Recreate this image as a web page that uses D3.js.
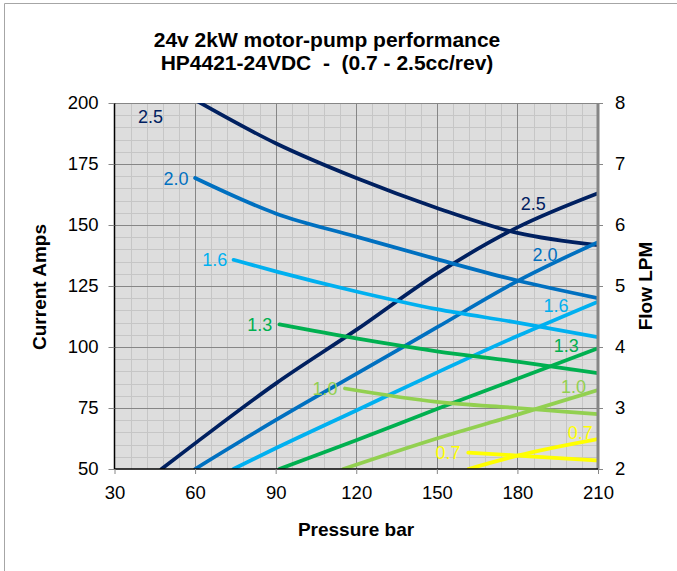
<!DOCTYPE html>
<html><head><meta charset="utf-8">
<script src="https://cdn.jsdelivr.net/npm/d3@7"></script>
<style>body{margin:0;background:#fff} text{font-family:"Liberation Sans",Arial,sans-serif}</style>
</head><body><svg id="c" width="677" height="571"></svg>
<script>
const displacements = ["2.5","2.0","1.6","1.3","1.0","0.7"];
const currentPressure = [[47.5,60,90,120,150,180,210],[60,90,120,150,180,210],[74.3,90,120,150,180,210],[91.4,120,150,180,210],[115.2,150,180,210],[161.8,180,210]];
const currentAmps = [[50,60.5,85,107,130,149,163],[50,70,89,108,127,143],[50,58.5,74,89.5,104.5,118.6],[50,61.8,74.6,87,99.5],[50,62.5,72.3,82.4],[50,55.5,62.3]];
const flowPressure = [[60,90,120,150,180,210],[60,90,120,150,180,210],[74.3,90,120,150,180,210],[91.4,120,150,180,210],[115.8,150,180,210],[161.7,180,210]];
const flowLpm = [[8.05,7.34,6.77,6.28,5.87,5.67],[6.77,6.19,5.81,5.44,5.09,4.80],[5.43,5.24,4.91,4.62,4.40,4.16],[4.37,4.14,3.93,3.76,3.57],[3.32,3.10,3.00,2.90],[2.27,2.22,2.14]];
const flowLabelPressure = [43.4,52.9,67.3,84.1,108.4,154.2];
const flowLabelLpm = [7.775,6.766,5.426,4.369,3.323,2.267];
const currentLabelPressure = [185.9,190.3,194.4,198.2,200.9,203.4];
const currentLabelAmps = [159.0,137.7,117.2,100.5,84.0,65.0];
const pressureTicks = [30,60,90,120,150,180,210];
const ampTicks = [50,75,100,125,150,175,200];
const lpmTicks = [2,3,4,5,6,7,8];
const seriesColors = ["#002060","#0070C0","#00B0F0","#00B050","#92D050","#FFFF00"];
const titleLines = ["24v 2kW motor-pump performance","HP4421-24VDC  -  (0.7 - 2.5cc/rev)"];

const svg = d3.select("#c");
const L = 114.5, R = 598, T = 103, B = 469;
const x = d3.scaleLinear().domain([30,210]).range([L,R]);
const yA = d3.scaleLinear().domain([50,200]).range([B,T]);
const yF = d3.scaleLinear().domain([2,8]).range([B,T]);

svg.append("path").attr("d",`M4.5,571 V3.5 H677`).attr("fill","none").attr("stroke","#a6a6a6").attr("stroke-width",1);
svg.append("rect").attr("x",L).attr("y",T).attr("width",R-L).attr("height",B-T).attr("fill","#dddddd");

const minorX = d3.range(30,210.01,6).filter(v=>v%30!==0);
const minorY = d3.range(50,200.01,5).filter(v=>v%25!==0);
const g = svg.append("g");
g.selectAll(".mx").data(minorX).join("line").attr("x1",d=>Math.round(x(d))+0.5).attr("x2",d=>Math.round(x(d))+0.5).attr("y1",T).attr("y2",B).attr("stroke","#c6c6c6");
g.selectAll(".my").data(minorY).join("line").attr("y1",d=>Math.round(yA(d))+0.5).attr("y2",d=>Math.round(yA(d))+0.5).attr("x1",L).attr("x2",R).attr("stroke","#c6c6c6");
g.selectAll(".Mx").data(pressureTicks.slice(1,-1)).join("line").attr("x1",d=>Math.round(x(d))+0.5).attr("x2",d=>Math.round(x(d))+0.5).attr("y1",T).attr("y2",B).attr("stroke","#868686");
g.selectAll(".My").data(ampTicks.slice(1,-1)).join("line").attr("y1",d=>Math.round(yA(d))+0.5).attr("y2",d=>Math.round(yA(d))+0.5).attr("x1",L).attr("x2",R).attr("stroke","#868686");
svg.append("line").attr("x1",L).attr("x2",R).attr("y1",T+0.5).attr("y2",T+0.5).attr("stroke","#868686");

const axL = d3.axisLeft(yA).tickValues(ampTicks).tickSize(6).tickPadding(10);
const axR = d3.axisRight(yF).tickValues(lpmTicks).tickFormat(d3.format("d")).tickSize(5).tickPadding(12);
const axB = d3.axisBottom(x).tickValues(pressureTicks).tickSize(5).tickPadding(12);
function styleAxis(sel, lineColor, lw){
  sel.select(".domain").attr("stroke",lineColor).attr("stroke-width",lw);
  sel.selectAll(".tick line").attr("stroke","#868686");
  sel.selectAll(".tick text").attr("fill","#000").style("font-size","18.5px").style("font-family","'Liberation Sans',Arial,sans-serif");
}

svg.append("clipPath").attr("id","pc").append("rect").attr("x",L).attr("y",T).attr("width",R-L).attr("height",B-T);
const plot = svg.append("g").attr("clip-path","url(#pc)");

const lab = svg.append("g").style("font-size","18px");
displacements.forEach((d,i)=>{
  lab.append("text").attr("x",x(flowLabelPressure[i])).attr("y",yF(flowLabelLpm[i])).attr("dy","0.36em").attr("text-anchor","middle").attr("fill",seriesColors[i]).text(d);
  lab.append("text").attr("x",x(currentLabelPressure[i])).attr("y",yA(currentLabelAmps[i])).attr("dy","0.36em").attr("text-anchor","middle").attr("fill",seriesColors[i]).text(d);
});

const lineA = d3.line().x(d=>x(d[0])).y(d=>yA(d[1])).curve(d3.curveMonotoneX);
const lineF = d3.line().x(d=>x(d[0])).y(d=>yF(d[1])).curve(d3.curveMonotoneX);
displacements.forEach((d,i)=>{
  plot.append("path").datum(flowPressure[i].map((p,j)=>[p,flowLpm[i][j]])).attr("d",lineF)
    .attr("fill","none").attr("stroke",seriesColors[i]).attr("stroke-width",3.75).attr("stroke-linecap","round");
  plot.append("path").datum(currentPressure[i].map((p,j)=>[p,currentAmps[i][j]])).attr("d",lineA)
    .attr("fill","none").attr("stroke",seriesColors[i]).attr("stroke-width",3.75).attr("stroke-linecap","round");
});

const gR = svg.append("g").attr("transform",`translate(${R},0)`).call(axR); styleAxis(gR,"#868686",3);
const gL = svg.append("g").attr("transform",`translate(${L},0)`).call(axL); styleAxis(gL,"#000",1.5);
const gB = svg.append("g").attr("transform",`translate(0,${B})`).call(axB); styleAxis(gB,"#000",1.5);
gL.select(".domain").attr("d",`M0,${T}V${B}`);
gB.select(".domain").attr("d",`M0,0H${R-L}`).attr("transform",`translate(${L},0)`);
gR.select(".domain").attr("d",`M0,${T}V${B}`);

const t = svg.append("text").attr("x",327).attr("text-anchor","middle").style("font-weight","bold").style("font-size","21px").style("white-space","pre").attr("xml:space","preserve");
titleLines.forEach((s,i)=>t.append("tspan").attr("x",327).attr("y",47+i*23).text(s));
svg.append("text").attr("x",356).attr("y",536).attr("text-anchor","middle").style("font-weight","bold").style("font-size","19px").text("Pressure bar");
svg.append("text").attr("transform","translate(46,287) rotate(-90)").attr("text-anchor","middle").style("font-weight","bold").style("font-size","19px").text("Current Amps");
svg.append("text").attr("transform","translate(652,286) rotate(-90)").attr("text-anchor","middle").style("font-weight","bold").style("font-size","19px").text("Flow LPM");
</script></body></html>
